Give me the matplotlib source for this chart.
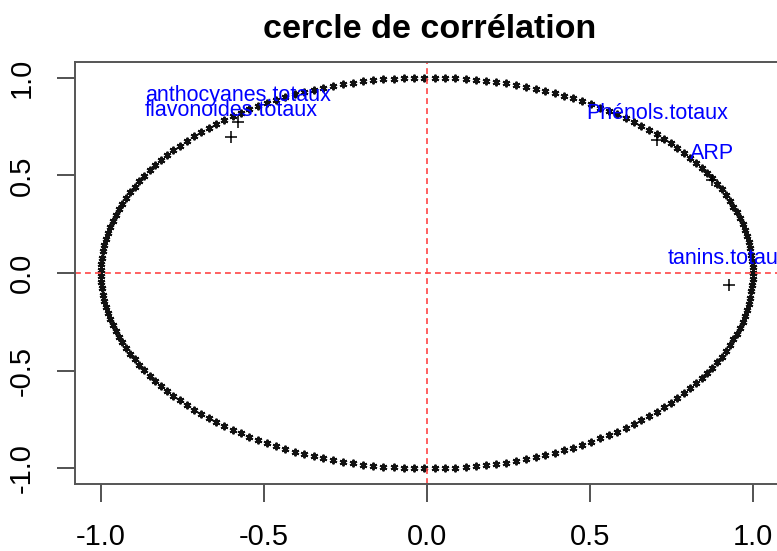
import numpy as np
import matplotlib
matplotlib.use("Agg")
import matplotlib.pyplot as plt

plt.rcParams['font.family'] = ['Liberation Sans', 'DejaVu Sans']

# variables and their correlations with the two axes
variables = ["anthocyanes.totaux", "flavonoides.totaux", "Phénols.totaux",
             "ARP", "tanins.totaux"]
corr_x = [-0.58, -0.60, 0.706, 0.874, 0.926]
corr_y = [0.774, 0.697, 0.682, 0.477, -0.06]

ticks = [-1.0, -0.5, 0.0, 0.5, 1.0]
tick_labels = ["-1.0", "-0.5", "0.0", "0.5", "1.0"]

n_circle = 200  # points used for the unit circle

fig = plt.figure(figsize=(7.77, 5.51), dpi=100)
ax = fig.add_axes([75 / 777, 67 / 551, 704 / 777, 422 / 551])

# unit circle drawn with small stars
theta = np.linspace(0, 2 * np.pi, n_circle)
ax.plot(np.cos(theta), np.sin(theta), linestyle='none', marker=(6, 2, 0),
        ms=5.5, mew=1.4, color='#111111')

# reference axes
ax.axhline(0, color='#ff4444', lw=1.2, dashes=(3.5, 2.5))
ax.axvline(0, color='#ff4444', lw=1.2, dashes=(3.5, 2.5))

# variables
ax.plot(corr_x, corr_y, linestyle='none', marker='+', ms=9, mew=1.1,
        color='black')
for name, x, y in zip(variables, corr_x, corr_y):
    ax.annotate(name, (x, y), xytext=(0, 19), textcoords='offset points',
                ha='center', va='center', color='blue', fontsize=15.5,
                annotation_clip=False)

ax.set_xlim(-1.08, 1.08)
ax.set_ylim(-1.08, 1.08)
ax.set_xticks(ticks)
ax.set_xticklabels(tick_labels)
ax.set_yticks(ticks)
ax.set_yticklabels(tick_labels, rotation=90, va='center')
ax.tick_params(direction='out', length=13, width=1.3, colors='#444444',
               labelcolor='black', labelsize=21, pad=15)
for s in ax.spines.values():
    s.set_color('#555555')
    s.set_linewidth(1.4)

fig.text(430 / 777, 1 - 29 / 551, "cercle de corrélation", ha='center',
         va='center', fontsize=24.5, fontweight='bold')

fig.savefig("out.png", dpi=100)
